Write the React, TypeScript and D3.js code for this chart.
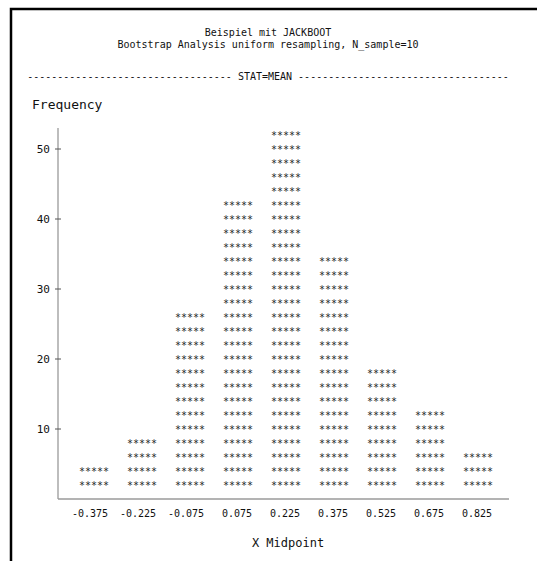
import React, { useEffect, useRef } from 'react';
import * as d3 from 'd3';

const midpoints = ['-0.375', '-0.225', '-0.075', '0.075', '0.225', '0.375', '0.525', '0.675', '0.825'];
const frequencies = [4, 8, 26, 42, 52, 34, 18, 12, 6];
const yTicks = [10, 20, 30, 40, 50];
const titleLines = ['Beispiel mit JACKBOOT', 'Bootstrap Analysis uniform resampling, N_sample=10'];
const byLabel = 'STAT=MEAN';

const W = 537;
const H = 561;
const MONO = "'DejaVu Sans Mono', monospace";

export default function App() {
  const ref = useRef<HTMLDivElement>(null);

  useEffect(() => {
    const root = d3.select(ref.current);
    root.selectAll('*').remove();

    const svg = root
      .append('svg')
      .attr('width', W)
      .attr('height', H)
      .style('position', 'absolute')
      .style('left', 0)
      .style('top', 0)
      .style('background', '#fff');

    // frame (left + top only)
    svg.append('path')
      .attr('d', `M11,${H} L11,9 L${W},9`)
      .attr('fill', 'none')
      .attr('stroke', '#000')
      .attr('stroke-width', 2.5);

    // titles
    svg.selectAll('text.title')
      .data(titleLines)
      .enter()
      .append('text')
      .attr('class', 'title')
      .attr('x', 268)
      .attr('y', (d, i) => 35.5 + i * 12)
      .attr('text-anchor', 'middle')
      .attr('font-family', MONO)
      .attr('font-size', 10)
      .attr('fill', '#111')
      .text(d => d);

    const dashes = (n: number) => Array(n).fill('-').join('');
    svg.append('text')
      .attr('x', 268)
      .attr('y', 80)
      .attr('text-anchor', 'middle')
      .attr('font-family', MONO)
      .attr('font-size', 10)
      .attr('fill', '#111')
      .attr('xml:space', 'preserve')
      .style('white-space', 'pre')
      .text(`${dashes(34)} ${byLabel} ${dashes(35)}`);

    svg.append('text')
      .attr('x', 32)
      .attr('y', 109)
      .attr('font-family', MONO)
      .attr('font-size', 13)
      .attr('fill', '#111')
      .text('Frequency');

    const x = d3.scaleBand().domain(midpoints).range([70, 502]);
    const y = d3.scaleLinear().domain([0, 50]).range([499, 149]);

    // axes
    svg.append('line')
      .attr('x1', 58).attr('x2', 58)
      .attr('y1', y(53)).attr('y2', y(0))
      .attr('stroke', '#9a9a9a')
      .attr('stroke-width', 1.3);
    svg.append('line')
      .attr('x1', 58).attr('x2', 509)
      .attr('y1', y(0)).attr('y2', y(0))
      .attr('stroke', '#9a9a9a')
      .attr('stroke-width', 1.3);

    const ticks = svg.selectAll('g.ytick')
      .data(yTicks)
      .enter()
      .append('g')
      .attr('class', 'ytick')
      .attr('transform', d => `translate(0,${y(d)})`);
    ticks.append('line')
      .attr('x1', 55).attr('x2', 61)
      .attr('stroke', '#555')
      .attr('stroke-width', 1);
    ticks.append('text')
      .attr('x', 50)
      .attr('y', 4)
      .attr('text-anchor', 'end')
      .attr('font-family', MONO)
      .attr('font-size', 11)
      .attr('fill', '#111')
      .text(d => d);

    // bars as rows of asterisks, one row per 2 units
    const bars = svg.selectAll('g.bar')
      .data(midpoints.map((m, i) => ({ m, f: frequencies[i] })))
      .enter()
      .append('g')
      .attr('class', 'bar')
      .attr('transform', d => `translate(${(x(d.m) as number) + x.bandwidth() / 2},0)`);

    bars.each(function (d) {
      const rows = d3.range(1, Math.round(d.f / 2) + 1);
      d3.select(this)
        .selectAll('text')
        .data(rows)
        .enter()
        .append('text')
        .attr('x', 0)
        .attr('y', k => y(k * 2) + 3.5)
        .attr('text-anchor', 'middle')
        .attr('font-family', MONO)
        .attr('font-size', 10)
        .attr('fill', '#222')
        .text('*****');
    });

    bars.append('text')
      .attr('x', 14)
      .attr('y', 517)
      .attr('text-anchor', 'end')
      .attr('font-family', MONO)
      .attr('font-size', 10)
      .attr('fill', '#111')
      .text(d => d.m);

    svg.append('text')
      .attr('x', 288)
      .attr('y', 547)
      .attr('text-anchor', 'middle')
      .attr('font-family', MONO)
      .attr('font-size', 12)
      .attr('fill', '#111')
      .text('X Midpoint');
  }, []);

  return <div ref={ref} />;
}
